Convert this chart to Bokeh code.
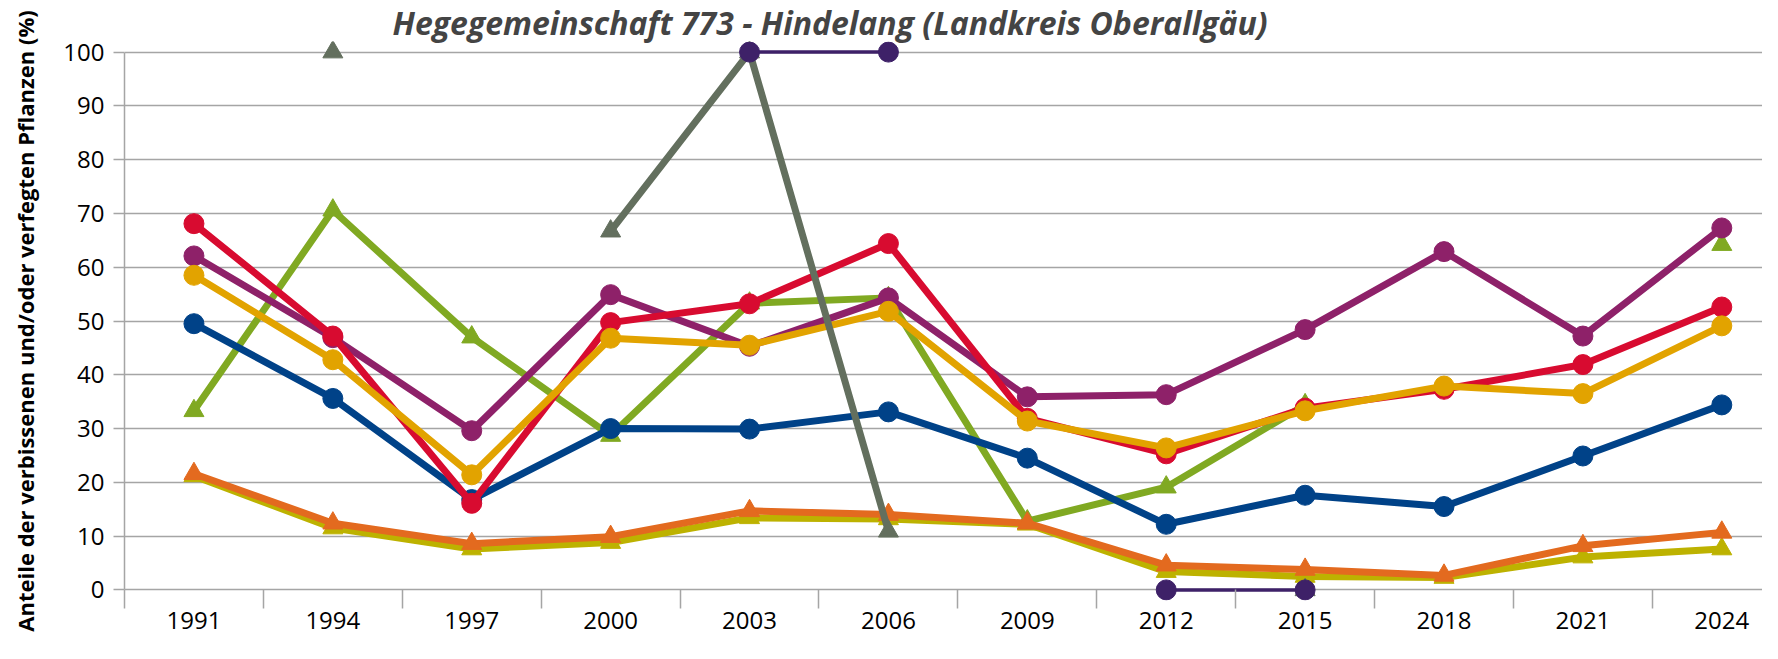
from bokeh.plotting import figure
from bokeh.models import Range1d, FixedTicker
from bokeh.embed import file_html
from bokeh.resources import INLINE

nan = float("nan")

years = ["1991", "1994", "1997", "2000", "2003", "2006",
         "2009", "2012", "2015", "2018", "2021", "2024"]

s_green = [33.3, 70.6, 47.0, 28.7, 53.3, 54.3, 12.8, 19.1, 34.4, nan, nan, 64.2]
s_olive = [21.2, 11.5, 7.6, 8.8, 13.4, 13.2, 12.2, 3.4, 2.5, 2.3, 6.1, 7.6]
s_orange = [21.6, 12.4, 8.6, 9.9, 14.7, 14.0, 12.4, 4.6, 3.8, 2.7, 8.2, 10.7]
s_blue = [49.5, 35.6, 16.8, 30.0, 29.9, 33.1, 24.5, 12.2, 17.6, 15.5, 24.9, 34.4]
s_purple = [62.1, 46.9, 29.6, 54.9, 45.3, 54.3, 35.9, 36.3, 48.4, 62.9, 47.2, 67.3]
s_red = [68.1, 47.2, 16.1, 49.7, 53.2, 64.4, 31.9, 25.3, 33.8, 37.3, 41.9, 52.6]
s_yellow = [58.5, 42.8, 21.4, 46.8, 45.5, 51.8, 31.4, 26.4, 33.3, 37.9, 36.5, 49.1]
s_gray = [nan, 100.0, nan, 66.7, 100.0, 10.9, nan, nan, 0.0, nan, nan, nan]
s_dark = [nan, nan, nan, nan, 100.0, 100.0, nan, 0.0, 0.0, nan, nan, nan]

y_ticks = [0, 10, 20, 30, 40, 50, 60, 70, 80, 90, 100]

title_text = "Hegegemeinschaft 773 - Hindelang (Landkreis Oberallgäu)"
y_title = "Anteile der verbissenen und/oder verfegten Pflanzen (%)"

series = [
    (s_green, "#80A922", "triangle", 7),
    (s_olive, "#BDB200", "triangle", 7),
    (s_orange, "#E36A1F", "triangle", 7),
    (s_blue, "#004288", "circle", 7),
    (s_purple, "#8E2169", "circle", 7),
    (s_red, "#D80B30", "circle", 7),
    (s_yellow, "#E2A300", "circle", 7),
    (s_gray, "#636F5E", "triangle", 7),
    (s_dark, "#3E2168", "circle", 3.5),
]

xs = list(range(len(years)))
GRID = "#A5A5A5"
FONT = "Open Sans"

p = figure(width=1762, height=643, output_backend="svg", toolbar_location=None,
           x_range=Range1d(-0.5, 11.293), y_range=Range1d(-1.97, 101.97),
           min_border_left=124, min_border_right=0, min_border_top=0,
           min_border_bottom=43)
p.outline_line_color = None
p.background_fill_color = "white"
p.border_fill_color = "white"

p.title.text = title_text
p.title.text_font = FONT
p.title.text_font_style = "bold italic"
p.title.text_font_size = "32px"
p.title.align = "left"
p.title.offset = 268
p.title.standoff = -4

# y axis
yax = p.yaxis[0]
yax.ticker = FixedTicker(ticks=y_ticks)
yax.bounds = (0, 100)
yax.axis_line_color = GRID
yax.axis_line_width = 1.5
yax.major_tick_line_color = GRID
yax.major_tick_line_width = 1.5
yax.major_tick_out = 11
yax.major_tick_in = 0
yax.minor_tick_line_color = None
yax.major_label_standoff = 9
yax.major_label_text_font = FONT
yax.major_label_text_font_size = "24px"
yax.major_label_text_color = "black"
yax.axis_label = y_title
yax.axis_label_text_font = FONT
yax.axis_label_text_font_style = "bold"
yax.axis_label_text_font_size = "22px"
yax.axis_label_text_color = "black"
yax.axis_label_standoff = 20

# x axis
xax = p.xaxis[0]
xax.ticker = FixedTicker(ticks=xs, minor_ticks=[i - 0.5 for i in range(len(years) + 1)])
xax.major_label_overrides = {i: y for i, y in enumerate(years)}
xax.axis_line_color = None
xax.major_tick_line_color = None
xax.major_tick_out = 0
xax.major_tick_in = 0
xax.minor_tick_line_color = GRID
xax.minor_tick_line_width = 1.5
xax.minor_tick_in = 11
xax.minor_tick_out = 8
xax.major_label_standoff = 3
xax.major_label_text_font = FONT
xax.major_label_text_font_size = "24px"
xax.major_label_text_color = "black"

p.xgrid.visible = False
p.ygrid.ticker = FixedTicker(ticks=y_ticks)
p.ygrid.grid_line_color = GRID
p.ygrid.grid_line_width = 1.6

for vals, color, marker, lw in series:
    p.line(xs, vals, line_color=color, line_width=lw, line_join="round")
    p.scatter(xs, vals, marker=marker, size=20, fill_color=color, line_color=color)

open("out.html", "w").write(file_html(p, INLINE))
